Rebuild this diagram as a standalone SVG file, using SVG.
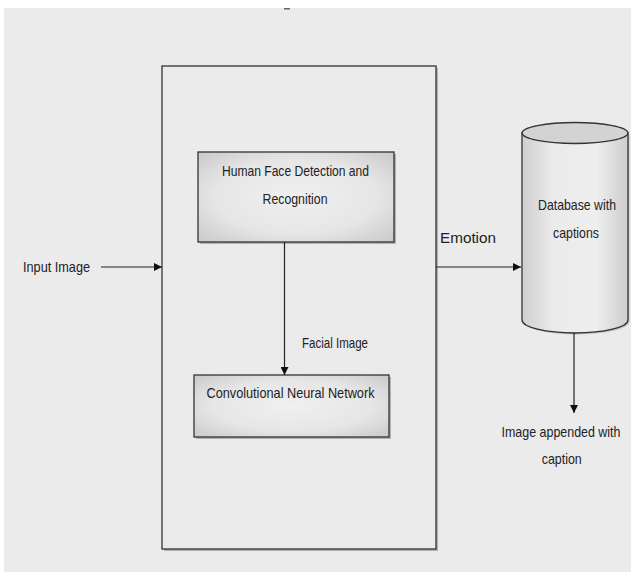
<svg xmlns="http://www.w3.org/2000/svg" width="631" height="572" viewBox="0 0 631 572">
<defs>
<style>
text{font-family:"Liberation Sans",Arial,sans-serif;font-size:14.5px;fill:#222;text-anchor:middle;dominant-baseline:central}
.ln{stroke:#222;stroke-width:1.2;fill:none}
.box{stroke:#333;stroke-width:1.3}
.shadow{fill:#9a9a9a;opacity:0.7}
</style>
<radialGradient id="g1" cx="0.5" cy="0.5" r="0.75">
<stop offset="0" stop-color="#f0f0f0"/>
<stop offset="0.55" stop-color="#e6e6e6"/>
<stop offset="1" stop-color="#c4c4c4"/>
</radialGradient>
<linearGradient id="cyl" x1="0" y1="0" x2="1" y2="0">
<stop offset="0" stop-color="#cfcfcf"/>
<stop offset="0.3" stop-color="#ebebeb"/>
<stop offset="0.7" stop-color="#eeeeee"/>
<stop offset="1" stop-color="#cdcdcd"/>
</linearGradient>
<marker id="ah" viewBox="0 0 10 10" refX="10" refY="5" markerWidth="8" markerHeight="8" markerUnits="userSpaceOnUse" orient="auto">
<path d="M0,0 L10,5 L0,10 z" fill="#111"/>
</marker>
</defs>
<rect x="0" y="0" width="631" height="572" fill="#ffffff"/>
<rect x="4" y="8" width="627" height="564" fill="#ebebeb"/>
<rect x="284" y="8" width="6" height="1.5" fill="#666"/>

<g id="container">
<rect class="shadow" x="164" y="68" width="274" height="483"/>
<rect class="box" x="162" y="66" width="274" height="483" fill="#ebebeb"/>
</g>

<g id="face-detection">
<rect class="shadow" x="200" y="154" width="196" height="90"/>
<rect class="box" x="198" y="152" width="196" height="90" fill="url(#g1)"/>
<text x="295.5" y="171" textLength="147" lengthAdjust="spacingAndGlyphs">Human Face Detection and</text>
<text x="295" y="199" textLength="65" lengthAdjust="spacingAndGlyphs">Recognition</text>
</g>

<g id="cnn">
<rect class="shadow" x="196" y="377" width="195" height="62"/>
<rect class="box" x="194" y="375" width="195" height="62" fill="url(#g1)"/>
<text x="290.5" y="393" textLength="168" lengthAdjust="spacingAndGlyphs">Convolutional Neural Network</text>
</g>

<g id="database">
<path d="M522,133 L522,320 A53,13 0 0 0 628,320 L628,133 z" fill="#9a9a9a" opacity="0.5" transform="translate(1.5,1.5)"/>
<path class="box" d="M522,133 L522,320 A53,13 0 0 0 628,320 L628,133 z" fill="url(#cyl)"/>
<ellipse class="box" cx="575" cy="133" rx="53" ry="10.5" fill="#d3d3d3"/>
<text x="577" y="205" textLength="78" lengthAdjust="spacingAndGlyphs">Database with</text>
<text x="576" y="233" textLength="46" lengthAdjust="spacingAndGlyphs">captions</text>
</g>

<g id="labels">
<text x="56.5" y="267" textLength="67" lengthAdjust="spacingAndGlyphs">Input Image</text>
<text x="468" y="238" textLength="56" lengthAdjust="spacingAndGlyphs">Emotion</text>
<text x="335" y="343" textLength="66" lengthAdjust="spacingAndGlyphs">Facial Image</text>
<text x="561" y="432" font-size="12.5" textLength="119" lengthAdjust="spacingAndGlyphs">Image appended with</text>
<text x="561.7" y="459" textLength="40" lengthAdjust="spacingAndGlyphs">caption</text>
</g>

<g id="connectors">
<line class="ln" x1="101" y1="267" x2="162" y2="267" marker-end="url(#ah)"/>
<line class="ln" x1="436" y1="267" x2="521" y2="267" marker-end="url(#ah)"/>
<line class="ln" x1="284.5" y1="242" x2="284.5" y2="375" marker-end="url(#ah)"/>
<line class="ln" x1="574" y1="333" x2="574" y2="413" marker-end="url(#ah)"/>
</g>
</svg>
